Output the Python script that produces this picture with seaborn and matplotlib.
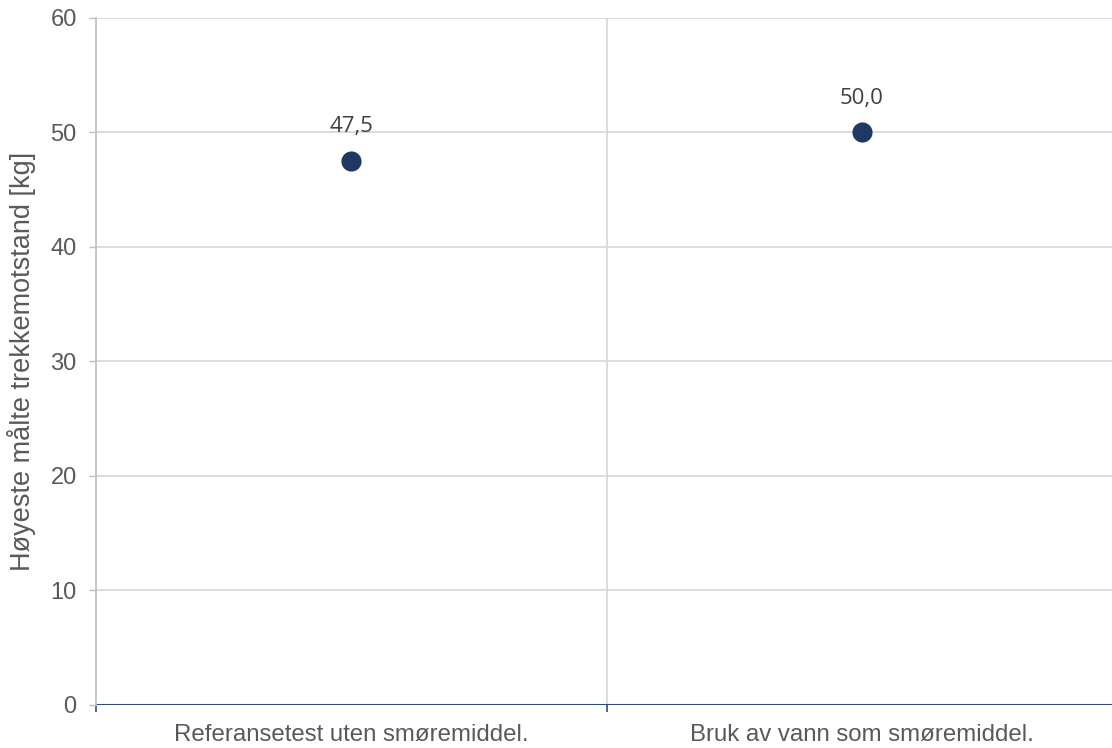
import matplotlib.pyplot as plt
import pandas as pd
import seaborn as sns

# Data
categories = ["Referansetest uten smøremiddel.", "Bruk av vann som smøremiddel."]
values = [47.5, 50.0]
value_labels = ["47,5", "50,0"]
y_ticks = [0, 10, 20, 30, 40, 50, 60]

df = pd.DataFrame({"kategori": categories, "verdi": values})

sns.set_theme(style="white")
plt.rcParams["font.family"] = ["Liberation Sans", "DejaVu Sans"]

fig = plt.figure(figsize=(11.12, 7.48), dpi=100)
ax = fig.add_axes([0.0865, 0.0575, 0.9135, 0.9185])

sns.stripplot(data=df, x="kategori", y="verdi", jitter=False, size=14.5,
              color="#1f3864", linewidth=0, ax=ax, zorder=3)

# gridlines: horizontal per tick, vertical between categories
for y in y_ticks[1:]:
    ax.axhline(y, color="#d9d9d9", linewidth=1.3, zorder=0)
ax.axvline(0.5, color="#d9d9d9", linewidth=1.3, zorder=0)
ax.axhline(0, color="#2f4a7a", linewidth=1.5, zorder=2)

# category boundary ticks on the x axis
ax.set_xticks([0, 1])
ax.set_xticklabels(categories)
ax.set_xticks([-0.5, 0.5, 1.5], minor=True)
ax.set_yticks(y_ticks)
# set limits after the ticks, otherwise set_xticks widens the view
ax.set_xlim(-0.5, 1.49)
ax.set_ylim(0, 60)

ax.tick_params(axis="x", which="major", length=0, pad=14, labelsize=17.3,
               labelcolor="#595959")
ax.tick_params(axis="x", which="minor", length=5, width=1.2, color="#2f4a7a",
               direction="out", bottom=True)
ax.tick_params(axis="y", length=5, width=1, color="#bfbfbf", left=True,
               labelsize=17, labelcolor="#595959", pad=9)

for side in ["top", "right", "bottom"]:
    ax.spines[side].set_visible(False)
ax.spines["left"].set_color("#bfbfbf")
ax.spines["left"].set_linewidth(1.2)

ax.set_xlabel("")
ax.set_ylabel("Høyeste målte trekkemotstand [kg]", fontsize=19.5, color="#595959",
              labelpad=10)

for i, (v, txt) in enumerate(zip(values, value_labels)):
    ax.annotate(txt, (i, v), xytext=(0, 17), textcoords="offset points",
                ha="center", va="bottom", fontsize=16, color="#404040",
                family=["Open Sans", "DejaVu Sans"])

fig.savefig("out.png", dpi=100)
plt.close(fig)
